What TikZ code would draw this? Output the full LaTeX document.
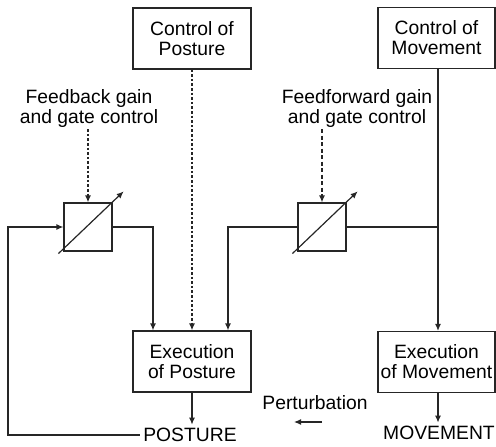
\documentclass[tikz,border=0pt]{standalone}
\usepackage{fontspec}
\setmainfont{Liberation Sans}
\usepackage{tikz}
\usetikzlibrary{arrows.meta, positioning}
\tikzset{
  blk/.style={rectangle, draw=black!85, line width=1.2pt, minimum width=118pt,
              minimum height=61pt, inner sep=0pt, align=center},
  gate/.style={rectangle, draw=black!85, line width=1.2pt, minimum size=48pt,
               inner sep=0pt},
  lbl/.style={align=center, inner sep=1pt},
  ln/.style={line width=1.2pt, black!85},
  arr/.style={ln, -{Latex[length=7pt, width=6pt]}},
  dotarr/.style={arr, line width=2.6pt, dash pattern=on 2.6pt off 2pt},
  dasharr/.style={arr, dash pattern=on 4pt off 2.5pt},
}

\begin{document}
\begin{tikzpicture}[x=1pt, y=-1pt, font=\fontsize{19.3}{20}\selectfont]
  \useasboundingbox (0,0) rectangle (496,447);
  % boxes
  \node[blk] (cp) at (192,38.5) {Control of\\Posture};
  \node[blk, minimum width=117pt] (cm) at (436.5,38) {Control of\\Movement};
  \node[blk] (ep) at (192,361.5) {Execution\\of Posture};
  \node[blk, minimum width=117pt] (em) at (436.5,362) {Execution\\of Movement};
  \node[gate] (g1) at (88,227) {};
  \node[gate] (g2) at (322,227) {};
  \node[lbl] (fb) at (89,109) {Feedback gain\\and gate control};
  \node[lbl] (ff) at (357,109) {Feedforward gain\\and gate control};
  \node (post) at (190,435) {POSTURE};
  \node (mov) at (439,433) {MOVEMENT};
  \node (pert) at (315,403) {Perturbation};
  \coordinate (fl) at (8,227);
  \coordinate (j) at (438,227);
  \coordinate (pa) at (322,422);
  \coordinate (pb) at (294,422);
  % control lines
  \draw[dotarr] (cp.south) -- (ep.north);
  \draw[arr] (cm.south -| j) -- (em.north -| j);
  \draw[dotarr] (fb.south -| g1.north) -- (g1.north);
  \draw[dasharr] (ff.south -| g2.north) -- (g2.north);
  % feedback loop
  \draw[arr] (post.west) -| (fl) -- (g1.west);
  \draw[arr] (g1.east) -| ([xshift=-39pt]ep.north);
  \draw[ln] (j) -- (g2.east);
  \draw[arr] (g2.west) -| ([xshift=36pt]ep.north);
  % gain arrows
  \draw[arr] ([shift={(-5pt,-2pt)}]g1.south west) -- ([shift={(11pt,11pt)}]g1.north east);
  \draw[arr] ([shift={(-5pt,-2pt)}]g2.south west) -- ([shift={(11pt,11pt)}]g2.north east);
  % outputs
  \draw[arr] (ep.south) -- (ep.south |- post.north);
  \draw[arr] (em.south -| j) -- (j |- mov.north);
  \draw[arr] (pa) -- (pb);
\end{tikzpicture}
\end{document}
